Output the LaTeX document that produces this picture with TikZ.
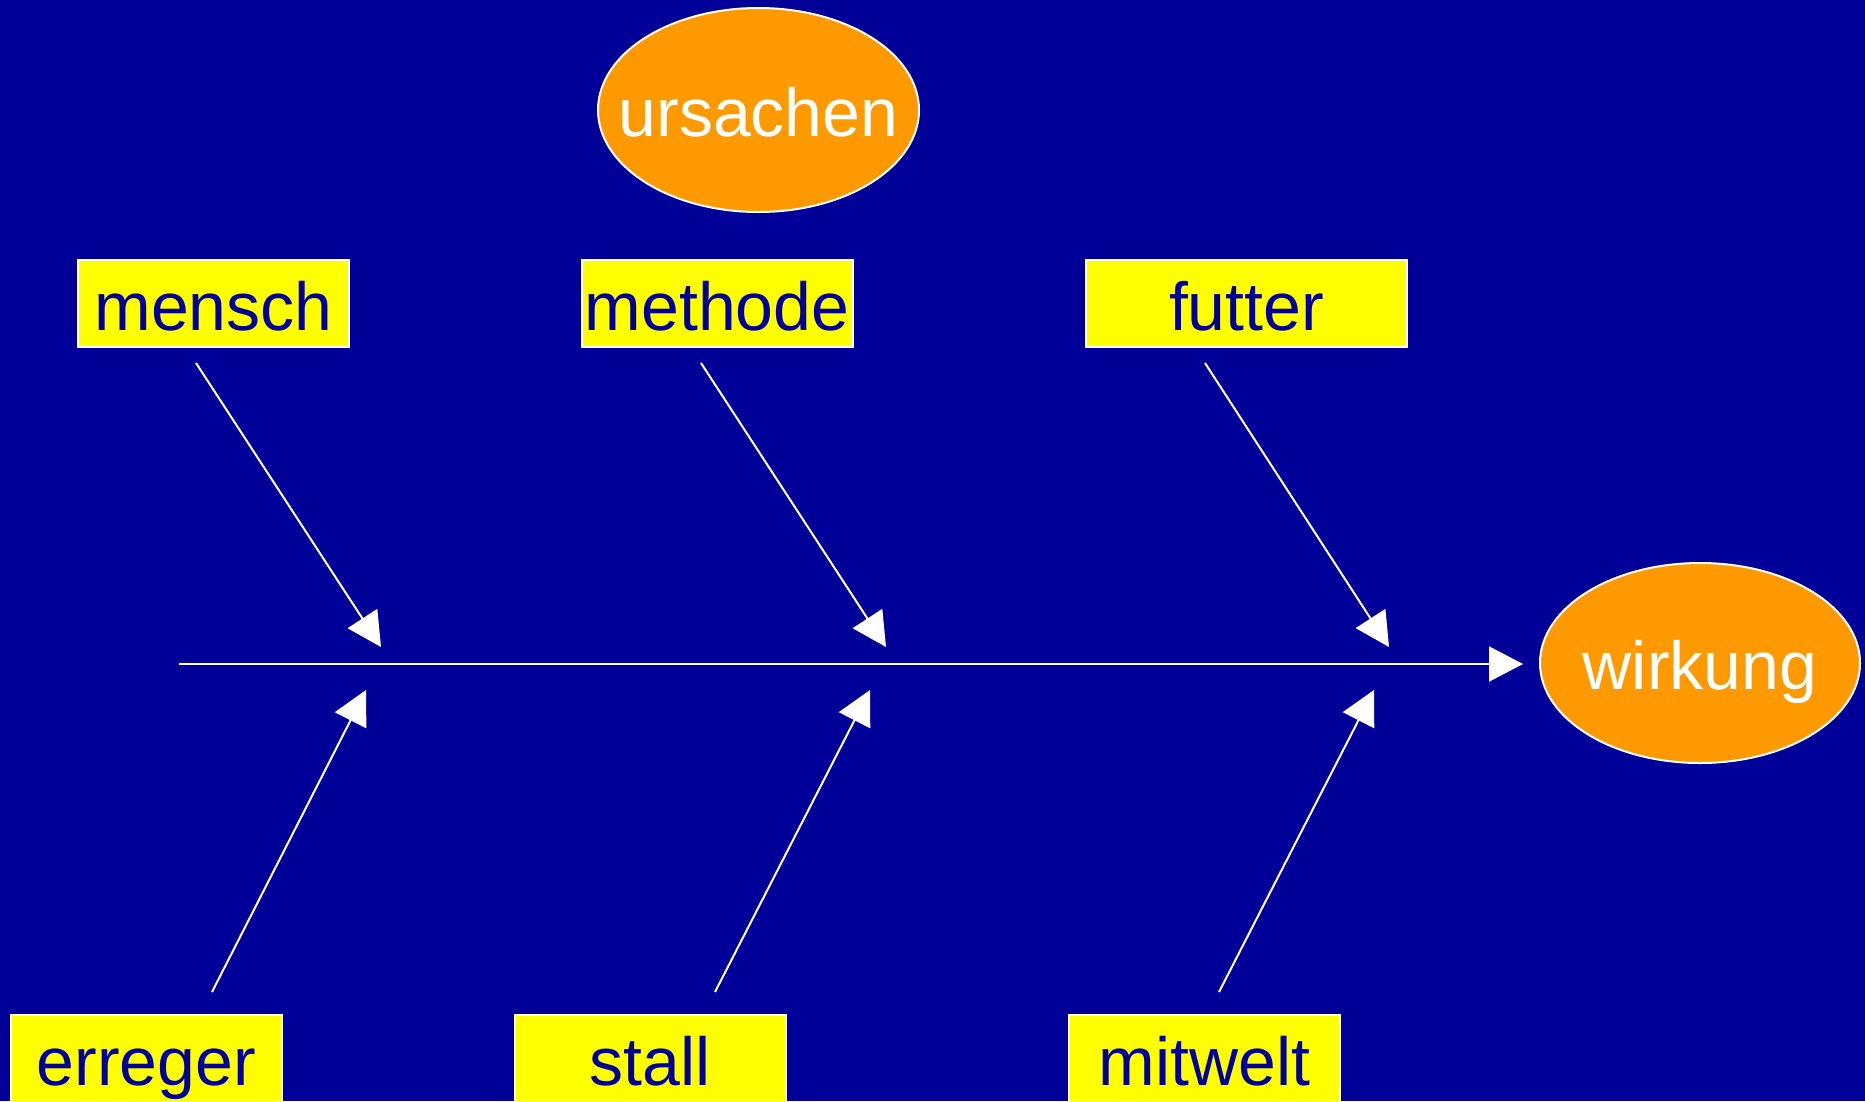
\documentclass[tikz,border=0pt]{standalone}
\usepackage{fontspec}
\setmainfont{Liberation Sans}
\usetikzlibrary{arrows.meta,shapes.geometric}
\definecolor{bg}{RGB}{0,0,153}
\definecolor{org}{RGB}{255,153,0}
\definecolor{yel}{RGB}{255,255,0}
\begin{document}
\begin{tikzpicture}[x=1pt,y=-1pt,
  lab/.style={font=\fontsize{68}{80}\selectfont, text height=53pt, text depth=0pt},
  cause/.style={lab, draw=white, line width=2pt, fill=yel, text=bg,
    minimum width=271pt, minimum height=87pt, inner sep=0pt},
  eff/.style={lab, ellipse, draw=white, line width=2pt, fill=org, text=white,
    minimum width=321pt, minimum height=204pt, inner sep=0pt},
  bone/.style={draw=white, line width=2pt, line cap=butt,
    -{Triangle[length=34pt,width=35pt]}}]
\fill[bg] (0,0) rectangle (1865,1101);
\useasboundingbox (0,0) rectangle (1865,1101);
% effect / causes heading
\node[eff] (urs) at (758.5,110) {\makebox[0pt]{ursachen}};
\node[eff, minimum width=320pt, minimum height=200pt] (wir) at (1700,663) {\makebox[0pt]{wirkung}};
% cause boxes
\node[cause] (mensch) at (213.5,303.5) {mensch};
\node[cause] (methode) at (717,303.5) {methode};
\node[cause, minimum width=321pt] (futter) at (1246.5,303.5) {futter};
\node[cause] (erreger) at (146.5,1058.5) {erreger};
\node[cause] (stall) at (650,1058.5) {stall};
\node[cause] (mitwelt) at (1204.5,1058.5) {mitwelt};
% spine
\coordinate (s0) at (179,664);
\coordinate (s1) at (1523,664);
\draw[bone] (s0) -- (s1);
% upper bones
\coordinate (a1) at (196,363);  \coordinate (a2) at (381,647);
\coordinate (b1) at (701,363);  \coordinate (b2) at (886,647);
\coordinate (c1) at (1205,363); \coordinate (c2) at (1389,647);
\draw[bone] (a1) -- (a2);
\draw[bone] (b1) -- (b2);
\draw[bone] (c1) -- (c2);
% lower bones
\coordinate (d1) at (212,992);  \coordinate (d2) at (366,690);
\coordinate (e1) at (715,992);  \coordinate (e2) at (870,690);
\coordinate (f1) at (1219,992); \coordinate (f2) at (1374,690);
\draw[bone] (d1) -- (d2);
\draw[bone] (e1) -- (e2);
\draw[bone] (f1) -- (f2);
\end{tikzpicture}
\end{document}
